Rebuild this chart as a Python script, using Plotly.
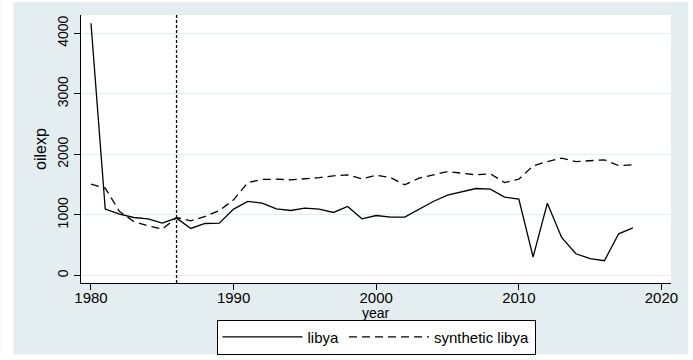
import plotly.graph_objects as go

# Annual oil exports, actual vs synthetic control
years = list(range(1980, 2019))
libya = [4165, 1096, 1013, 957, 935, 864, 947, 776, 858, 864,
         1096, 1222, 1194, 1100, 1073, 1112, 1096, 1040, 1139, 935,
         990, 963, 963, 1090, 1222, 1327, 1376, 1436, 1426, 1294,
         1261, 304, 1194, 627, 358, 276, 243, 688, 787]
synthetic_libya = [1508, 1442, 1056, 891, 820, 765, 957, 903, 974, 1073,
                   1249, 1535, 1585, 1590, 1579, 1596, 1615, 1645, 1662, 1596,
                   1656, 1617, 1497, 1607, 1662, 1716, 1689, 1662, 1678, 1535,
                   1590, 1810, 1881, 1937, 1881, 1892, 1909, 1815, 1826]
treatment_year = 1986
x_ticks = [1980, 1990, 2000, 2010, 2020]
y_ticks = [0, 1000, 2000, 3000, 4000]

FONT = "Liberation Sans, Arial, sans-serif"
BG = "#E4EEF1"

fig = go.Figure()
fig.add_trace(go.Scatter(x=years, y=libya, mode="lines", name="libya",
                         line=dict(color="black", width=1.3)))
fig.add_trace(go.Scatter(x=years, y=synthetic_libya, mode="lines",
                         name="synthetic libya",
                         line=dict(color="black", width=1.3, dash="8px,5px")))

# thin white frame around the tinted graph region
frame = [(-0.1368, -0.1147, -0.2858, 1.0559),
         (1.0293, 1.0378, -0.2858, 1.0559),
         (-0.1368, 1.0378, 1.0484, 1.0559),
         (-0.1368, 1.0378, -0.2858, -0.2672)]
for x0, x1, y0, y1 in frame:
    fig.add_shape(type="rect", xref="paper", yref="paper",
                  x0=x0, x1=x1, y0=y0, y1=y1,
                  fillcolor="white", line=dict(width=0), layer="below")

# reference line at treatment year
fig.add_shape(type="line", xref="x", yref="paper",
              x0=treatment_year, x1=treatment_year, y0=0, y1=1,
              line=dict(color="black", width=1.3, dash="3px,2px"))

# x-axis title
fig.add_annotation(text="year", xref="paper", yref="paper", x=0.5, y=-0.111,
                   xanchor="center", yanchor="middle", showarrow=False,
                   font=dict(size=14))

fig.update_layout(
    width=693, height=360,
    margin=dict(l=81, r=22, t=15, b=77, autoexpand=False),
    paper_bgcolor=BG,
    plot_bgcolor="white",
    font=dict(family=FONT, color="black", size=15),
    showlegend=True,
    legend=dict(orientation="h", x=0.5, xanchor="center",
                y=-0.137, yanchor="top",
                bordercolor="black", borderwidth=1, bgcolor="white",
                font=dict(size=15), itemwidth=80,
                tracegroupgap=0),
)
fig.update_xaxes(range=[1979.3, 2020.67], tickvals=x_ticks,
                 showgrid=False, zeroline=False,
                 showline=True, linecolor="black", linewidth=1,
                 ticks="outside", ticklen=6, tickcolor="black",
                 tickfont=dict(size=15), ticklabelstandoff=-5)
fig.update_yaxes(range=[-125, 4302], tickvals=y_ticks,
                 showgrid=True, gridcolor=BG, gridwidth=1, zeroline=False,
                 showline=True, linecolor="black", linewidth=1,
                 ticks="outside", ticklen=6, tickcolor="black",
                 tickangle=-90, tickfont=dict(size=14),
                 title=dict(text="oilexp", font=dict(size=16), standoff=4))

fig.write_html("out.html")
